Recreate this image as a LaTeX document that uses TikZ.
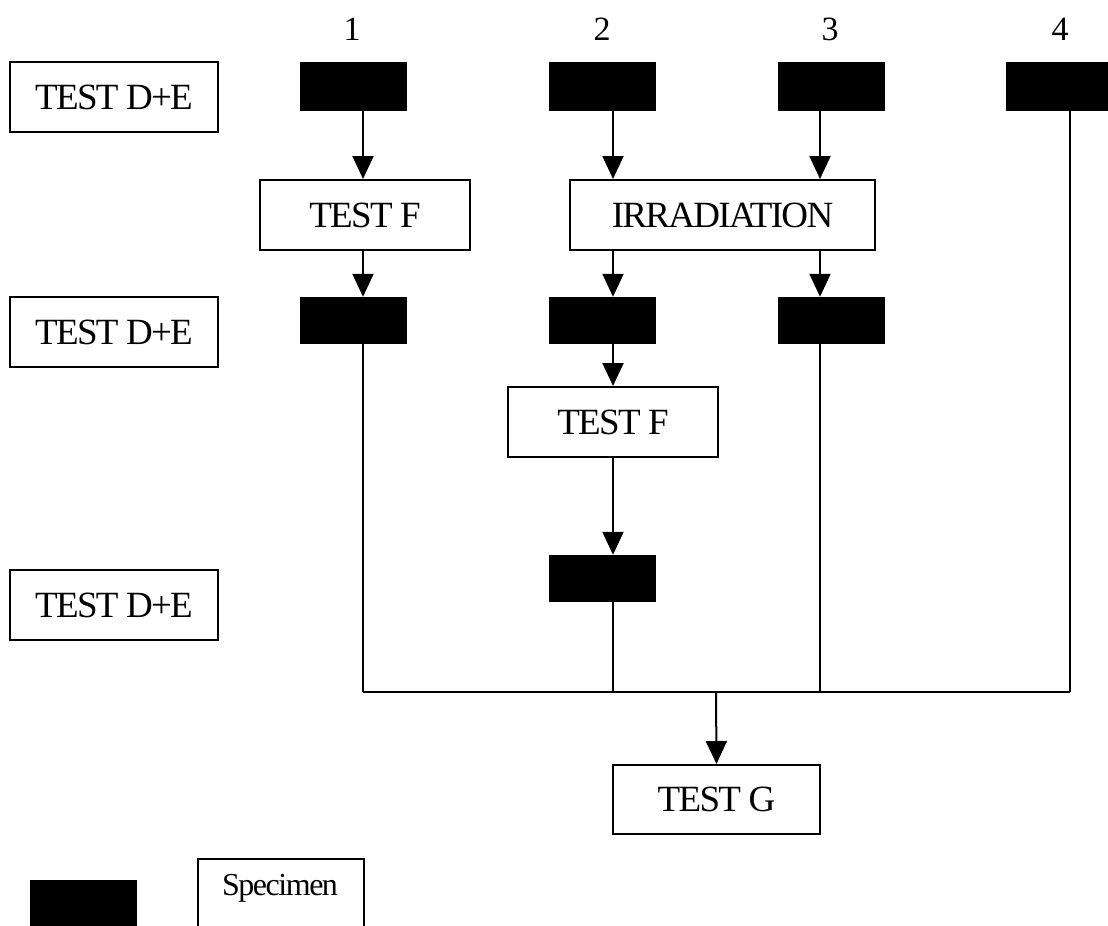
\documentclass[tikz,border=0pt]{standalone}
\usepackage{fontspec}
\setmainfont{Liberation Serif}
\newfontfamily\tightfont[LetterSpace=-4.6]{Liberation Serif}
\usetikzlibrary{arrows.meta}
\tikzset{
  spec/.style={rectangle, fill=black, draw=black, minimum width=106pt, minimum height=48pt, inner sep=0pt},
  tbox/.style={rectangle, draw=black, line width=2pt, inner sep=0pt, font=\tightfont\fontsize{37}{40}\selectfont},
  lbl/.style={font=\fontsize{34}{36}\selectfont, inner sep=0pt},
  arr/.style={line width=2pt, -{Triangle[length=23pt,width=21pt]}},
  ln/.style={line width=2pt}
}
\begin{document}
\begin{tikzpicture}[x=1pt,y=-1pt]
\clip (0,0) rectangle (1108,926);
\fill[white] (0,0) rectangle (1108,926);
% column numbers
\node[lbl] (n1) at (352,29) {1};
\node[lbl] (n2) at (602,29) {2};
\node[lbl] (n3) at (830,29) {3};
\node[lbl] (n4) at (1060,29) {4};
% row labels
\node[tbox, minimum width=208pt, minimum height=70pt] (de1) at (114,97) {TEST D+E};
\node[tbox, minimum width=208pt, minimum height=70pt] (de2) at (114,332) {TEST D+E};
\node[tbox, minimum width=208pt, minimum height=70pt] (de3) at (114,605) {TEST D+E};
% specimens row 1
\node[spec] (a1) at (353,86) {};
\node[spec] (a2) at (602.5,86) {};
\node[spec] (a3) at (831,86) {};
\node[spec] (a4) at (1059,86) {};
% tests
\node[tbox, minimum width=210pt, minimum height=70pt] (tf1) at (365,215) {TEST F};
\node[tbox, minimum width=305pt, minimum height=70pt] (irr) at (722.5,215) {IRRADIATION};
% specimens row 2
\node[spec, minimum height=46pt] (b1) at (353,320) {};
\node[spec, minimum height=46pt] (b2) at (602.5,320) {};
\node[spec, minimum height=46pt] (b3) at (831,320) {};
\node[tbox, minimum width=210pt, minimum height=70pt] (tf2) at (613,422) {TEST F};
\node[spec, minimum height=46pt] (c2) at (602.5,578) {};
\node[tbox, minimum width=207pt, minimum height=69pt] (tg) at (716.5,799.5) {TEST G};
% column coordinates
\coordinate (x1) at (363,0);
\coordinate (x2) at (613,0);
\coordinate (x3) at (820,0);
\coordinate (x4) at (1070,0);
\coordinate (bus) at (716,692);
% arrows
\draw[arr] (a1.south -| x1) -- (tf1.north -| x1);
\draw[arr] (a2.south -| x2) -- (irr.north -| x2);
\draw[arr] (a3.south -| x3) -- (irr.north -| x3);
\draw[arr] (tf1.south -| x1) -- (b1.north -| x1);
\draw[arr] (irr.south -| x2) -- (b2.north -| x2);
\draw[arr] (irr.south -| x3) -- (b3.north -| x3);
\draw[arr] (b2.south -| x2) -- (tf2.north -| x2);
\draw[arr] (tf2.south -| x2) -- (c2.north -| x2);
% bus lines
\draw[ln] (b1.south -| x1) -- (x1 |- bus);
\draw[ln] (c2.south -| x2) -- (x2 |- bus);
\draw[ln] (b3.south -| x3) -- (x3 |- bus);
\draw[ln] (a4.south -| x4) -- (x4 |- bus);
\draw[ln] (x1 |- bus) -- (x4 |- bus);
\draw[arr] (bus) -- (tg.north);
% legend
\node[spec] (lb) at (83,904) {};
\node[tbox, minimum width=166pt, minimum height=90pt, anchor=north west, font=\tightfont\fontsize{32}{34}\selectfont, text depth=0pt] (ls) at (197,858) {};
\node[font=\tightfont\fontsize{32}{34}\selectfont, inner sep=0pt] (lst) at (280,888) {Specimen};
\end{tikzpicture}
\end{document}
